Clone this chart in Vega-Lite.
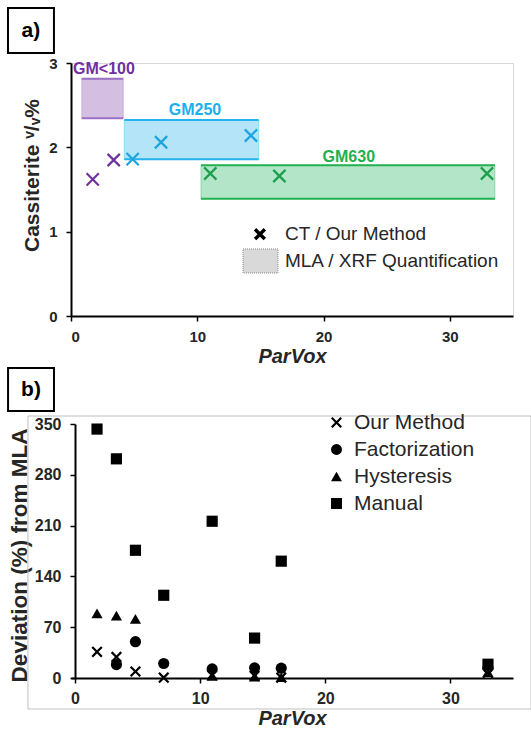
{
  "$schema": "https://vega.github.io/schema/vega-lite/v6.json",
  "background": "white",
  "padding": {"left": 6, "top": 6, "right": 0, "bottom": 4},
  "spacing": 108,
  "bounds": "flush",
  "config": {
    "font": "Liberation Sans",
    "view": {"stroke": null},
    "axis": {
      "grid": false,
      "domainColor": "black",
      "domainWidth": 2,
      "tickColor": "black",
      "tickWidth": 1.5,
      "tickSize": 5,
      "labelFontWeight": "bold",
      "labelColor": "#262626",
      "titleColor": "#262626",
      "titleFontWeight": "bold"
    }
  },
  "datasets": {
    "tagA": [{"label": "a)", "x": -4.99, "x2": -1.35, "y": 3.652, "y2": 3.119, "tx": -3.17, "ty": 3.385}],
    "tagB": [{"label": "b)", "x": -5.35, "x2": -1.68, "y": 427, "y2": 368, "tx": -3.52, "ty": 397}],
    "frameB": [{"x": -3.76, "x2": 36.44, "y": 361, "y2": -42.7}],
    "boxes": [
      {"group": "GM<100", "x": 0.85, "x2": 4.14, "y": 2.344, "y2": 2.814},
      {"group": "GM250", "x": 4.22, "x2": 14.86, "y": 1.858, "y2": 2.324},
      {"group": "GM630", "x": 10.29, "x2": 33.57, "y": 1.391, "y2": 1.787}
    ],
    "groupLabels": [
      {"group": "GM<100", "x": 2.61, "y": 2.93},
      {"group": "GM250", "x": 9.82, "y": 2.443},
      {"group": "GM630", "x": 22.0, "y": 1.889}
    ],
    "cassiterite": [
      {"group": "GM<100", "parvox": 1.72, "vv": 1.62},
      {"group": "GM<100", "parvox": 3.38, "vv": 1.85},
      {"group": "GM250", "parvox": 4.88, "vv": 1.86},
      {"group": "GM250", "parvox": 7.13, "vv": 2.06},
      {"group": "GM250", "parvox": 14.25, "vv": 2.14},
      {"group": "GM630", "parvox": 11.03, "vv": 1.69},
      {"group": "GM630", "parvox": 16.5, "vv": 1.66},
      {"group": "GM630", "parvox": 32.94, "vv": 1.69}
    ],
    "legendA": [
      {"item": "CT / Our Method", "sx": 14.96, "tx": 16.94, "y": 0.97},
      {"item": "MLA / XRF Quantification", "sx": null, "tx": 16.94, "y": 0.652}
    ],
    "legendABox": [{"x": 13.62, "x2": 16.39, "y": 0.795, "y2": 0.51}],
    "dev": [
      {"method": "Manual", "parvox": 1.76, "dev": 343},
      {"method": "Manual", "parvox": 3.31, "dev": 302},
      {"method": "Manual", "parvox": 4.83, "dev": 176},
      {"method": "Manual", "parvox": 7.09, "dev": 114},
      {"method": "Manual", "parvox": 10.96, "dev": 216},
      {"method": "Manual", "parvox": 14.35, "dev": 55},
      {"method": "Manual", "parvox": 16.48, "dev": 161},
      {"method": "Manual", "parvox": 33.0, "dev": 19},
      {"method": "Hysteresis", "parvox": 1.76, "dev": 89},
      {"method": "Hysteresis", "parvox": 3.31, "dev": 86},
      {"method": "Hysteresis", "parvox": 4.83, "dev": 81.5},
      {"method": "Hysteresis", "parvox": 10.96, "dev": 3},
      {"method": "Hysteresis", "parvox": 14.35, "dev": 2},
      {"method": "Hysteresis", "parvox": 16.48, "dev": 1},
      {"method": "Hysteresis", "parvox": 33.0, "dev": 8},
      {"method": "Factorization", "parvox": 3.31, "dev": 18.5},
      {"method": "Factorization", "parvox": 4.83, "dev": 50},
      {"method": "Factorization", "parvox": 7.09, "dev": 20},
      {"method": "Factorization", "parvox": 10.96, "dev": 12.5},
      {"method": "Factorization", "parvox": 14.35, "dev": 14},
      {"method": "Factorization", "parvox": 16.48, "dev": 13.5},
      {"method": "Factorization", "parvox": 33.0, "dev": 14},
      {"method": "Our Method", "parvox": 1.76, "dev": 36},
      {"method": "Our Method", "parvox": 3.31, "dev": 29},
      {"method": "Our Method", "parvox": 4.83, "dev": 9},
      {"method": "Our Method", "parvox": 7.09, "dev": 0.5},
      {"method": "Our Method", "parvox": 10.96, "dev": 4},
      {"method": "Our Method", "parvox": 14.35, "dev": 3},
      {"method": "Our Method", "parvox": 16.48, "dev": 0.5},
      {"method": "Our Method", "parvox": 33.0, "dev": 7}
    ]
  },
  "vconcat": [
    {
      "width": 442,
      "height": 253,
      "view": {"stroke": "#d9d9d9", "strokeWidth": 1},
      "resolve": {"scale": {"color": "independent"}},
      "layer": [
        {
          "data": {"name": "tagA"},
          "mark": {"type": "rect", "fill": "white", "stroke": "black", "strokeWidth": 2},
          "encoding": {
            "x": {"field": "x", "type": "quantitative", "scale": {"domain": [0, 35], "nice": false}, "axis": {"values": [0, 10, 20, 30], "title": "ParVox", "labelFontSize": 15, "labelPadding": 8, "titleFontSize": 20, "titleFontStyle": "italic", "titlePadding": 2}},
            "x2": {"field": "x2"},
            "y": {"field": "y", "type": "quantitative", "scale": {"domain": [0, 3], "nice": false}, "axis": {"values": [0, 1, 2, 3], "title": "Cassiterite ᵛ/ᵥ%", "labelFontSize": 15, "labelPadding": 9, "titleFontSize": 21, "titlePadding": 6, "titleY": 112}},
            "y2": {"field": "y2"}
          }
        },
        {
          "data": {"name": "tagA"},
          "mark": {"type": "text", "fontSize": 21, "fontWeight": "bold", "color": "black", "align": "center", "baseline": "middle"},
          "encoding": {
            "x": {"field": "tx", "type": "quantitative", "scale": {"domain": [0, 35], "nice": false}, "axis": {"values": [0, 10, 20, 30], "title": "ParVox", "labelFontSize": 15, "labelPadding": 8, "titleFontSize": 20, "titleFontStyle": "italic", "titlePadding": 2}},
            "y": {"field": "ty", "type": "quantitative", "scale": {"domain": [0, 3], "nice": false}, "axis": {"values": [0, 1, 2, 3], "title": "Cassiterite ᵛ/ᵥ%", "labelFontSize": 15, "labelPadding": 9, "titleFontSize": 21, "titlePadding": 6, "titleY": 112}},
            "text": {"field": "label"}
          }
        },
        {
          "data": {"name": "boxes"},
          "mark": {"type": "rect", "strokeWidth": 1, "strokeOpacity": 0.35},
          "encoding": {
            "x": {"field": "x", "type": "quantitative", "scale": {"domain": [0, 35], "nice": false}, "axis": {"values": [0, 10, 20, 30], "title": "ParVox", "labelFontSize": 15, "labelPadding": 8, "titleFontSize": 20, "titleFontStyle": "italic", "titlePadding": 2}},
            "x2": {"field": "x2"},
            "y": {"field": "y", "type": "quantitative", "scale": {"domain": [0, 3], "nice": false}, "axis": {"values": [0, 1, 2, 3], "title": "Cassiterite ᵛ/ᵥ%", "labelFontSize": 15, "labelPadding": 9, "titleFontSize": 21, "titlePadding": 6, "titleY": 112}},
            "y2": {"field": "y2"},
            "color": {"field": "group", "type": "nominal", "scale": {"domain": ["GM<100", "GM250", "GM630"], "range": ["#d4bfe3", "#b3e4f7", "#b3e6c9"]}, "legend": null},
            "stroke": {"field": "group", "type": "nominal", "scale": {"domain": ["GM<100", "GM250", "GM630"], "range": ["#9b6fc4", "#25b4ee", "#22b050"]}, "legend": null}
          }
        },
        {
          "data": {"name": "boxes"},
          "mark": {"type": "rule", "strokeWidth": 2},
          "encoding": {
            "x": {"field": "x", "type": "quantitative", "scale": {"domain": [0, 35], "nice": false}, "axis": {"values": [0, 10, 20, 30], "title": "ParVox", "labelFontSize": 15, "labelPadding": 8, "titleFontSize": 20, "titleFontStyle": "italic", "titlePadding": 2}},
            "x2": {"field": "x2"},
            "y": {"field": "y2", "type": "quantitative", "scale": {"domain": [0, 3], "nice": false}, "axis": {"values": [0, 1, 2, 3], "title": "Cassiterite ᵛ/ᵥ%", "labelFontSize": 15, "labelPadding": 9, "titleFontSize": 21, "titlePadding": 6, "titleY": 112}},
            "color": {"field": "group", "type": "nominal", "scale": {"domain": ["GM<100", "GM250", "GM630"], "range": ["#9b6fc4", "#25b4ee", "#22b050"]}, "legend": null}
          }
        },
        {
          "data": {"name": "boxes"},
          "mark": {"type": "rule", "strokeWidth": 2},
          "encoding": {
            "x": {"field": "x", "type": "quantitative", "scale": {"domain": [0, 35], "nice": false}, "axis": {"values": [0, 10, 20, 30], "title": "ParVox", "labelFontSize": 15, "labelPadding": 8, "titleFontSize": 20, "titleFontStyle": "italic", "titlePadding": 2}},
            "x2": {"field": "x2"},
            "y": {"field": "y", "type": "quantitative", "scale": {"domain": [0, 3], "nice": false}, "axis": {"values": [0, 1, 2, 3], "title": "Cassiterite ᵛ/ᵥ%", "labelFontSize": 15, "labelPadding": 9, "titleFontSize": 21, "titlePadding": 6, "titleY": 112}},
            "color": {"field": "group", "type": "nominal", "scale": {"domain": ["GM<100", "GM250", "GM630"], "range": ["#9b6fc4", "#25b4ee", "#22b050"]}, "legend": null}
          }
        },
        {
          "data": {"name": "cassiterite"},
          "mark": {"type": "point", "shape": "M-1,-1L1,1M-1,1L1,-1", "filled": false, "strokeWidth": 2.2, "size": 150, "opacity": 1},
          "encoding": {
            "x": {"field": "parvox", "type": "quantitative", "scale": {"domain": [0, 35], "nice": false}, "axis": {"values": [0, 10, 20, 30], "title": "ParVox", "labelFontSize": 15, "labelPadding": 8, "titleFontSize": 20, "titleFontStyle": "italic", "titlePadding": 2}},
            "y": {"field": "vv", "type": "quantitative", "scale": {"domain": [0, 3], "nice": false}, "axis": {"values": [0, 1, 2, 3], "title": "Cassiterite ᵛ/ᵥ%", "labelFontSize": 15, "labelPadding": 9, "titleFontSize": 21, "titlePadding": 6, "titleY": 112}},
            "color": {"field": "group", "type": "nominal", "scale": {"domain": ["GM<100", "GM250", "GM630"], "range": ["#7030a0", "#1ca3e0", "#1e9e4a"]}, "legend": null}
          }
        },
        {
          "data": {"name": "groupLabels"},
          "mark": {"type": "text", "fontSize": 16, "fontWeight": "bold", "align": "center", "baseline": "middle"},
          "encoding": {
            "x": {"field": "x", "type": "quantitative", "scale": {"domain": [0, 35], "nice": false}, "axis": {"values": [0, 10, 20, 30], "title": "ParVox", "labelFontSize": 15, "labelPadding": 8, "titleFontSize": 20, "titleFontStyle": "italic", "titlePadding": 2}},
            "y": {"field": "y", "type": "quantitative", "scale": {"domain": [0, 3], "nice": false}, "axis": {"values": [0, 1, 2, 3], "title": "Cassiterite ᵛ/ᵥ%", "labelFontSize": 15, "labelPadding": 9, "titleFontSize": 21, "titlePadding": 6, "titleY": 112}},
            "text": {"field": "group"},
            "color": {"field": "group", "type": "nominal", "scale": {"domain": ["GM<100", "GM250", "GM630"], "range": ["#7030a0", "#1ab0ee", "#1fb04f"]}, "legend": null}
          }
        },
        {
          "data": {"name": "legendABox"},
          "mark": {"type": "rect", "fill": "#d9d9d9", "stroke": "#8c8c8c", "strokeWidth": 1, "strokeDash": [1, 1]},
          "encoding": {
            "x": {"field": "x", "type": "quantitative", "scale": {"domain": [0, 35], "nice": false}, "axis": {"values": [0, 10, 20, 30], "title": "ParVox", "labelFontSize": 15, "labelPadding": 8, "titleFontSize": 20, "titleFontStyle": "italic", "titlePadding": 2}},
            "x2": {"field": "x2"},
            "y": {"field": "y", "type": "quantitative", "scale": {"domain": [0, 3], "nice": false}, "axis": {"values": [0, 1, 2, 3], "title": "Cassiterite ᵛ/ᵥ%", "labelFontSize": 15, "labelPadding": 9, "titleFontSize": 21, "titlePadding": 6, "titleY": 112}},
            "y2": {"field": "y2"}
          }
        },
        {
          "data": {"name": "legendA"},
          "transform": [{"filter": "datum.sx != null"}],
          "mark": {"type": "point", "shape": "M-0.6,-1L0,-0.4L0.6,-1L1,-0.6L0.4,0L1,0.6L0.6,1L0,0.4L-0.6,1L-1,0.6L-0.4,0L-1,-0.6Z", "filled": true, "color": "black", "size": 150, "opacity": 1},
          "encoding": {
            "x": {"field": "sx", "type": "quantitative", "scale": {"domain": [0, 35], "nice": false}, "axis": {"values": [0, 10, 20, 30], "title": "ParVox", "labelFontSize": 15, "labelPadding": 8, "titleFontSize": 20, "titleFontStyle": "italic", "titlePadding": 2}},
            "y": {"field": "y", "type": "quantitative", "scale": {"domain": [0, 3], "nice": false}, "axis": {"values": [0, 1, 2, 3], "title": "Cassiterite ᵛ/ᵥ%", "labelFontSize": 15, "labelPadding": 9, "titleFontSize": 21, "titlePadding": 6, "titleY": 112}}
          }
        },
        {
          "data": {"name": "legendA"},
          "mark": {"type": "text", "fontSize": 19, "color": "#262626", "align": "left", "baseline": "middle"},
          "encoding": {
            "x": {"field": "tx", "type": "quantitative", "scale": {"domain": [0, 35], "nice": false}, "axis": {"values": [0, 10, 20, 30], "title": "ParVox", "labelFontSize": 15, "labelPadding": 8, "titleFontSize": 20, "titleFontStyle": "italic", "titlePadding": 2}},
            "y": {"field": "y", "type": "quantitative", "scale": {"domain": [0, 3], "nice": false}, "axis": {"values": [0, 1, 2, 3], "title": "Cassiterite ᵛ/ᵥ%", "labelFontSize": 15, "labelPadding": 9, "titleFontSize": 21, "titlePadding": 6, "titleY": 112}},
            "text": {"field": "item"}
          }
        }
      ]
    },
    {
      "width": 442,
      "height": 254,
      "layer": [
        {
          "data": {"name": "frameB"},
          "mark": {"type": "rect", "filled": false, "color": "#bfbfbf", "strokeWidth": 1},
          "encoding": {
            "x": {"field": "x", "type": "quantitative", "scale": {"domain": [-0.32, 35], "nice": false, "zero": false}, "axis": {"values": [0, 10, 20, 30], "title": "ParVox", "labelFontSize": 16, "labelPadding": 7, "titleFontSize": 20, "titleFontStyle": "italic", "titlePadding": 2}},
            "x2": {"field": "x2"},
            "y": {"field": "y", "type": "quantitative", "scale": {"domain": [0, 350], "nice": false}, "axis": {"values": [0, 70, 140, 210, 280, 350], "title": "Deviation (%) from MLA", "offset": -4, "labelFontSize": 16, "labelPadding": 9, "titleFontSize": 22.5, "titlePadding": 3, "titleY": 131}},
            "y2": {"field": "y2"}
          }
        },
        {
          "data": {"name": "tagB"},
          "mark": {"type": "rect", "fill": "white", "stroke": "black", "strokeWidth": 2},
          "encoding": {
            "x": {"field": "x", "type": "quantitative", "scale": {"domain": [-0.32, 35], "nice": false, "zero": false}, "axis": {"values": [0, 10, 20, 30], "title": "ParVox", "labelFontSize": 16, "labelPadding": 7, "titleFontSize": 20, "titleFontStyle": "italic", "titlePadding": 2}},
            "x2": {"field": "x2"},
            "y": {"field": "y", "type": "quantitative", "scale": {"domain": [0, 350], "nice": false}, "axis": {"values": [0, 70, 140, 210, 280, 350], "title": "Deviation (%) from MLA", "offset": -4, "labelFontSize": 16, "labelPadding": 9, "titleFontSize": 22.5, "titlePadding": 3, "titleY": 131}},
            "y2": {"field": "y2"}
          }
        },
        {
          "data": {"name": "tagB"},
          "mark": {"type": "text", "fontSize": 21, "fontWeight": "bold", "color": "black", "align": "center", "baseline": "middle"},
          "encoding": {
            "x": {"field": "tx", "type": "quantitative", "scale": {"domain": [-0.32, 35], "nice": false, "zero": false}, "axis": {"values": [0, 10, 20, 30], "title": "ParVox", "labelFontSize": 16, "labelPadding": 7, "titleFontSize": 20, "titleFontStyle": "italic", "titlePadding": 2}},
            "y": {"field": "ty", "type": "quantitative", "scale": {"domain": [0, 350], "nice": false}, "axis": {"values": [0, 70, 140, 210, 280, 350], "title": "Deviation (%) from MLA", "offset": -4, "labelFontSize": 16, "labelPadding": 9, "titleFontSize": 22.5, "titlePadding": 3, "titleY": 131}},
            "text": {"field": "label"}
          }
        },
        {
          "data": {"name": "dev"},
          "mark": {"type": "point", "filled": true, "color": "black", "size": 125, "opacity": 1},
          "encoding": {
            "x": {"field": "parvox", "type": "quantitative", "scale": {"domain": [-0.32, 35], "nice": false, "zero": false}, "axis": {"values": [0, 10, 20, 30], "title": "ParVox", "labelFontSize": 16, "labelPadding": 7, "titleFontSize": 20, "titleFontStyle": "italic", "titlePadding": 2}},
            "y": {"field": "dev", "type": "quantitative", "scale": {"domain": [0, 350], "nice": false}, "axis": {"values": [0, 70, 140, 210, 280, 350], "title": "Deviation (%) from MLA", "offset": -4, "labelFontSize": 16, "labelPadding": 9, "titleFontSize": 22.5, "titlePadding": 3, "titleY": 131}},
            "shape": {
              "field": "method", "type": "nominal",
              "scale": {"domain": ["Our Method", "Factorization", "Hysteresis", "Manual"], "range": ["M-0.72,-1L0,-0.28L0.72,-1L1,-0.72L0.28,0L1,0.72L0.72,1L0,0.28L-0.72,1L-1,0.72L-0.28,0L-1,-0.72Z", "circle", "triangle-up", "square"]},
              "legend": {"orient": "none", "legendX": 255, "legendY": 349, "title": null, "labelFontSize": 21, "labelColor": "#262626", "symbolSize": 120, "symbolFillColor": "black", "symbolStrokeWidth": 0, "symbolOpacity": 1, "rowPadding": 5, "labelOffset": 7, "padding": 0}
            }
          }
        }
      ]
    }
  ]
}
